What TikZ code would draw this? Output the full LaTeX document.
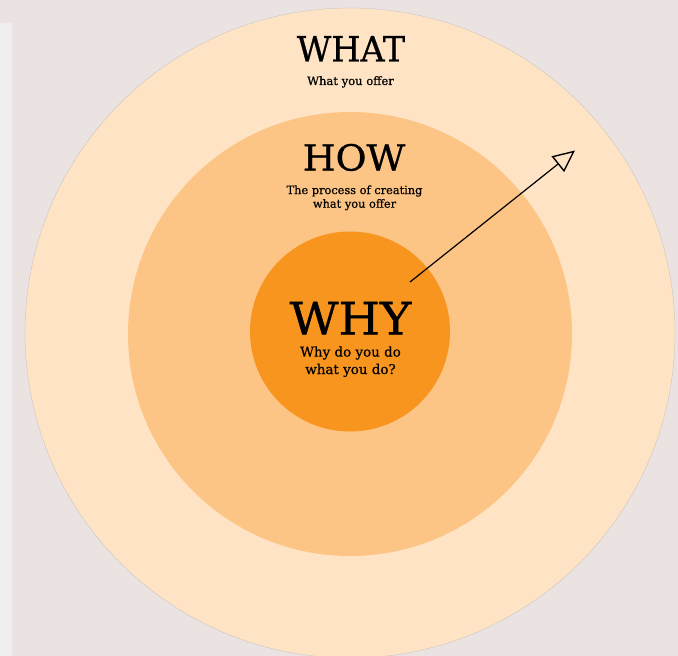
\documentclass[tikz,border=0pt]{standalone}
\usepackage{fontspec}
\setmainfont{DejaVu Serif}
\usetikzlibrary{arrows.meta}
\definecolor{bgc}{HTML}{EBE3E1}
\definecolor{stripc}{HTML}{EFEFEF}
\definecolor{whatc}{HTML}{FEE3C5}
\definecolor{howc}{HTML}{FCC585}
\definecolor{whyc}{HTML}{F7951F}
\tikzset{
  ring/.style={circle, inner sep=0pt, minimum size=#1},
  big/.style={font=\fontsize{#1}{#1}\selectfont\addfontfeature{FakeBold=0.8}, inner sep=0pt, anchor=base, text=black},
  small/.style={font=\fontsize{11.4}{13.7}\selectfont\addfontfeature{FakeBold=0.6}, inner sep=0pt, anchor=base, align=center, text=black},
}
\begin{document}
\begin{tikzpicture}[x=1bp, y=-1bp]
\useasboundingbox (0,0) rectangle (678,656);
\fill[bgc] (0,0) rectangle (678,656);
\fill[stripc] (0,23) rectangle (12,656);
\node[ring=650bp, fill=whatc, draw=black!25, line width=0.3bp] (what) at (350,333) {};
\node[ring=444bp, fill=howc] (how) at (350,334) {};
\node[ring=200bp, fill=whyc] (why) at (350,331.5) {};
\node[big=35] (whatT) at (351,61.5) {\scalebox{0.96}[1]{WHAT}};
\node[small, font=\fontsize{11.6}{14}\selectfont\addfontfeature{FakeBold=0.6}] (whatS) at (350.5,85) {What you offer};
\node[big=36] (howT) at (354,170.5) {\scalebox{1.05}[1]{HOW}};
\node[small] (howS) at (354.5,207.7) {The process of creating\\what you offer};
\node[big=45] (whyT) at (350.5,334.5) {\scalebox{1.06}[1]{WHY}};
\node[small, font=\fontsize{13.5}{17.5}\selectfont\addfontfeature{FakeBold=0.6}] (whyS) at (350.5,374) {Why do you do\\what you do?};
\coordinate (a0) at (410,282);
\coordinate (a1) at (575,150.5);
\draw[line width=1.2bp, -{Triangle[open, length=22bp, width=20bp, line width=1.4bp]}] (a0) -- (a1);
\end{tikzpicture}
\end{document}
